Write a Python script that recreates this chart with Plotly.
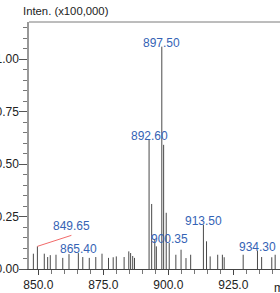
import plotly.graph_objects as go

# Peak list (m/z, relative intensity x100,000)
mz = [848.1, 849.65, 852.3, 853.6, 854.6, 856.8, 859.4, 861.8, 865.4, 867.1,
      869.6, 872.1, 874.5, 877.0, 878.8, 880.0, 883.0, 884.8, 885.5, 886.3,
      887.0, 892.6, 893.6, 894.8, 895.4, 897.5, 898.2, 899.2, 900.35, 902.9,
      904.9, 906.8, 908.6, 913.5, 914.7, 916.1, 919.0, 920.8, 921.5, 928.8,
      934.3, 935.9, 939.8, 941.1]
intensity = [0.073, 0.108, 0.073, 0.057, 0.066, 0.068, 0.053, 0.071, 0.076, 0.057,
             0.053, 0.057, 0.073, 0.053, 0.056, 0.060, 0.057, 0.084, 0.076, 0.062,
             0.053, 0.616, 0.310, 0.143, 0.108, 1.060, 0.592, 0.268, 0.125, 0.068,
             0.092, 0.052, 0.068, 0.211, 0.132, 0.060, 0.068, 0.068, 0.056, 0.068,
             0.087, 0.057, 0.056, 0.068]

label_mz = [849.65, 865.40, 892.60, 897.50, 900.35, 913.50, 934.30]
label_text = ["849.65", "865.40", "892.60", "897.50", "900.35", "913.50", "934.30"]

x_ticks = [850, 875, 900, 925]
y_ticks = [0.0, 0.25, 0.50, 0.75, 1.00]

xs, ys = [], []
for m, h in zip(mz, intensity):
    xs += [m, m, None]
    ys += [0, h, None]

fig = go.Figure()
fig.add_trace(go.Scatter(x=xs, y=ys, mode="lines",
                         line=dict(color="#4a4a4a", width=1),
                         hoverinfo="skip", showlegend=False))

lookup = dict(zip(mz, intensity))
blue = "#3563b5"
for m, t in zip(label_mz, label_text):
    h = lookup[m]
    if t == "849.65":
        fig.add_annotation(x=m, y=h, text=t, showarrow=True, arrowhead=0,
                           arrowwidth=1, arrowcolor="#f26a6a", ax=34, ay=-11,
                           xanchor="center", yanchor="bottom", standoff=0,
                           font=dict(color=blue, size=12))
    else:
        fig.add_annotation(x=m, y=h, text=t, showarrow=False,
                           xanchor="center", yanchor="bottom", yshift=-5,
                           font=dict(color=blue, size=12))

fig.add_annotation(xref="paper", yref="paper", x=-0.03, y=1.0, yshift=3,
                   text="Inten. (x100,000)", showarrow=False,
                   xanchor="left", yanchor="bottom",
                   font=dict(color="#222", size=11.3))
fig.add_annotation(xref="paper", yref="paper", x=0.968, y=0, yshift=-10,
                   text="m/z", showarrow=False, xanchor="left", yanchor="top",
                   font=dict(color="#222", size=12))

fig.add_shape(type="line", xref="paper", yref="paper", x0=0, x1=1, y0=1, y1=1,
              line=dict(color="#7a7a7a", width=1))

fig.update_layout(
    width=280, height=293,
    margin=dict(l=29, r=0, t=22, b=24, autoexpand=False),
    paper_bgcolor="white", plot_bgcolor="white",
    font=dict(family="Liberation Sans, Arial, sans-serif", size=12, color="#222"),
    xaxis=dict(range=[846.42, 942.96], tickvals=x_ticks,
               ticktext=[f"{v:.1f}" for v in x_ticks], automargin=False,
               showgrid=False, zeroline=False, showline=True,
               linecolor="#444", linewidth=1, ticks="outside", ticklen=5,
               tickcolor="#444", tickfont=dict(size=12, color="#222"),
               minor=dict(dtick=5, tick0=850, ticks="outside", ticklen=4,
                          tickcolor="#777", showgrid=False)),
    yaxis=dict(range=[0, 1.1776], tickvals=y_ticks,
               ticktext=[f"{v:.2f}" for v in y_ticks], automargin=False,
               showgrid=False, zeroline=False, showline=True,
               linecolor="#999", linewidth=1.5, ticks="outside", ticklen=8,
               ticklabelstandoff=-2,
               tickcolor="#555", tickfont=dict(size=12, color="#222"),
               minor=dict(dtick=0.05, tick0=0, ticks="outside", ticklen=4,
                          tickcolor="#777", showgrid=False)),
)

# remove the browser's default 8px page margin so the figure starts at the corner
fig.write_html("out.html", config={"displayModeBar": False},
               post_script="document.body.style.margin='0';document.body.style.overflow='hidden';")
